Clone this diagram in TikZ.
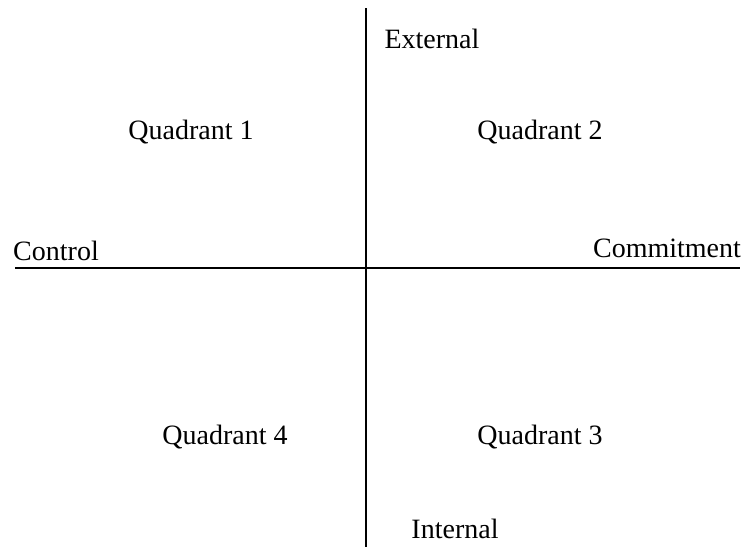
\documentclass[tikz,border=0pt]{standalone}
\usepackage{fontspec}
\setmainfont{Liberation Serif}
\usepackage{tikz}

\begin{document}
\begin{tikzpicture}[x=0.75pt,y=-0.75pt,font=\fontsize{21}{25}\selectfont,
  axis/.style={line width=1.3pt,black},
  lbl/.style={inner sep=0pt}]
 \useasboundingbox (0,0) rectangle (746,547);
 % ---- axes
 \coordinate (top) at (366,8);
 \coordinate (bottom) at (366,547);
 \coordinate (left) at (15,268);
 \coordinate (right) at (740,268);
 \draw[axis] (top) -- (bottom);
 \draw[axis] (left) -- (right);
 % ---- axis ends
 \node[lbl] (external) at (432,39) {External};
 \node[lbl] (internal) at (455,529) {Internal};
 \node[lbl] (control) at (56,251) {Control};
 \node[lbl] (commitment) at (667,248) {Commitment};
 % ---- quadrants
 \node[lbl] (q1) at (191,132) {Quadrant 1};
 \node[lbl] (q2) at (540,132) {Quadrant 2};
 \node[lbl] (q3) at (540,437) {Quadrant 3};
 \node[lbl] (q4) at (225,437) {Quadrant 4};
\end{tikzpicture}
\end{document}
